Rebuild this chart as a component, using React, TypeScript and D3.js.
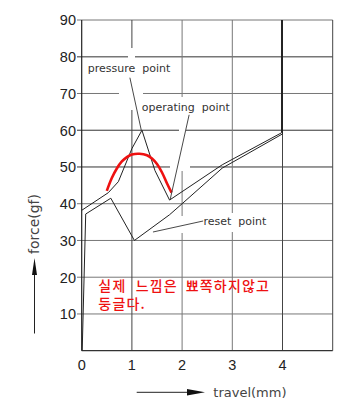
import React from "react";
import * as d3 from "d3";

const xTicks = [0, 1, 2, 3, 4];
const yTicks = [10, 20, 30, 40, 50, 60, 70, 80, 90];

// press stroke (upper curve)
const pressX = [0, 0.53, 0.73, 1.0, 1.2, 1.46, 1.75, 2.8, 3.98, 3.98];
const pressY = [38.2, 43, 46, 55, 60, 49, 41, 50.6, 59.3, 90];

// return stroke (lower curve)
const returnX = [4.0, 4.0, 2.8, 2.0, 1.75, 1.05, 0.58, 0.08, 0.01];
const returnY = [90, 59, 49.7, 40, 37, 30, 41.5, 37.2, 0];

// red "felt" curve
const feelX = [0.5, 0.6, 0.7, 0.8, 0.9, 1.0, 1.15, 1.3, 1.4, 1.5, 1.6, 1.7, 1.79];
const feelY = [43.5, 47, 49.6, 51.5, 52.7, 53.4, 53.6, 53.2, 52.3, 50.8, 48.5, 45.5, 43];

// annotations
const annoText = ["pressure  point", "operating  point", "reset  point"];
const annoFromX = [0.96, 2.14, 1.42];
const annoFromY = [74.3, 64.2, 32.3];
const annoToX = [1.19, 1.76, 2.42];
const annoToY = [59.8, 41, 35.3];

const noteLine1 = ["실제", "느낌은", "뾰쪽하지않고"];
const noteLine2 = "둥글다.";

export default function App() {
  const W = 356;
  const H = 409;
  const x = d3.scaleLinear().domain([0, 5]).range([81.7, 332.7]);
  const y = d3.scaleLinear().domain([0, 90]).range([350.7, 20]);

  const line = d3
    .line<[number, number]>()
    .x((d) => x(d[0]))
    .y((d) => y(d[1]));
  const smooth = d3
    .line<[number, number]>()
    .x((d) => x(d[0]))
    .y((d) => y(d[1]))
    .curve(d3.curveCatmullRom);

  const press = pressX.map((v, i) => [v, pressY[i]] as [number, number]);
  const ret = returnX.map((v, i) => [v, returnY[i]] as [number, number]);
  const feel = feelX.map((v, i) => [v, feelY[i]] as [number, number]);

  const hColor = (t: number) => (t === 60 || t === 50 ? "#333" : "#777");
  const vColor = (t: number) => (t === 1 || t === 4 ? "#444" : "#777");

  const labelFont = "'DejaVu Sans', sans-serif";
  const wordX = [98.3, 135.7, 185.7];

  return (
    <div style={{ position: "absolute", left: 0, top: 0 }}>
      <svg width={W} height={H} style={{ display: "block", background: "#fff" }}>
        {/* horizontal grid */}
        {yTicks.map((t) => (
          <line
            key={"h" + t}
            x1={77}
            x2={x(5)}
            y1={y(t)}
            y2={y(t)}
            stroke={hColor(t)}
            strokeWidth={t === 80 ? 1.4 : 1}
          />
        ))}
        {/* vertical grid */}
        {xTicks.slice(1).map((t) => (
          <line
            key={"v" + t}
            x1={x(t)}
            x2={x(t)}
            y1={y(90)}
            y2={y(0)}
            stroke={vColor(t)}
            strokeWidth={1}
          />
        ))}
        {/* frame */}
        <line x1={x(5)} x2={x(5)} y1={y(90)} y2={y(0)} stroke="#444" />
        <line x1={x(0)} x2={x(0)} y1={y(90)} y2={y(0)} stroke="#222" strokeWidth={1.2} />
        <line x1={x(0)} x2={x(5)} y1={y(0)} y2={y(0)} stroke="#333" strokeWidth={1.2} />

        {/* gaps in grid around labels */}
        <g fill="#fff">
          <rect x={119} y={90} width={24} height={7} />
          <rect x={128} y={48} width={7} height={62} />
          <rect x={179} y={97} width={7} height={74} />
          <rect x={170} y={164} width={20} height={6} />
          <rect x={179} y={216} width={7} height={17} />
          <rect x={229} y={213} width={7} height={19} />
        </g>

        {/* curves */}
        <path d={line(press) ?? ""} fill="none" stroke="#222" strokeWidth={1} />
        <path d={line(ret) ?? ""} fill="none" stroke="#222" strokeWidth={1} />
        <path d={smooth(feel) ?? ""} fill="none" stroke="#ee1111" strokeWidth={2.6} />

        {/* annotation leaders */}
        {annoText.map((_, i) => (
          <line
            key={"l" + i}
            x1={x(annoFromX[i])}
            y1={y(annoFromY[i])}
            x2={x(annoToX[i])}
            y2={y(annoToY[i])}
            stroke="#333"
            strokeWidth={0.9}
          />
        ))}
        <g fontFamily={labelFont} fontSize={11} fill="#333">
          <text x={87.7} y={71.8} xmlSpace="preserve">{annoText[0]}</text>
          <text x={141.7} y={111.3} xmlSpace="preserve">{annoText[1]}</text>
          <text x={203.5} y={224.5} xmlSpace="preserve">{annoText[2]}</text>
        </g>

        {/* tick labels */}
        <g fontFamily="'Liberation Sans', Arial, sans-serif" fontSize={14.5} fill="#222">
          {yTicks.map((t) => (
            <text key={"yt" + t} x={76} y={y(t) + 5.3} textAnchor="end">
              {t}
            </text>
          ))}
          {xTicks.map((t) => (
            <text key={"xt" + t} x={x(t)} y={370} textAnchor="middle">
              {t}
            </text>
          ))}
        </g>

        {/* axis titles with arrows */}
        <line x1={34.5} x2={34.5} y1={333.5} y2={272} stroke="#222" strokeWidth={1} />
        <path d="M34.5,258 L37,275 L32,275 Z" fill="#111" />
        <text
          transform="translate(39,224) rotate(-90)"
          textAnchor="middle"
          fontFamily={labelFont}
          fontSize={14}
          fill="#444"
        >
          force(gf)
        </text>
        <line x1={136.7} x2={192} y1={392.3} y2={392.3} stroke="#222" strokeWidth={1} />
        <path d="M205,392.3 L187,389 L187,395.6 Z" fill="#111" />
        <text x={213.3} y={397} fontFamily={labelFont} fontSize={13} fill="#444">
          travel(mm)
        </text>

        {/* red note */}
        <g
          fontFamily="'Noto Sans CJK KR', sans-serif"
          fontSize={14}
          fontWeight={500}
          fill="#ee1111"
          letterSpacing={1.2}
        >
          <text y={291}>
            {noteLine1.map((w, i) => (
              <tspan key={i} x={wordX[i]}>
                {w}
              </tspan>
            ))}
          </text>
          <text x={98.3} y={309}>{noteLine2}</text>
        </g>
      </svg>
    </div>
  );
}
